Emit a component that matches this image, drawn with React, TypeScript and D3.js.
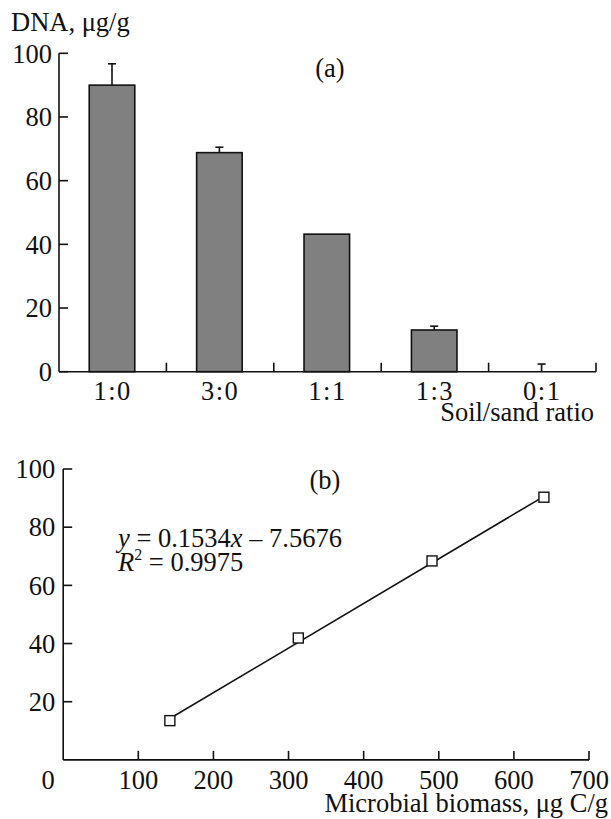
import React from "react";
import * as d3 from "d3";

const ratios = ["1:0", "3:0", "1:1", "1:3", "0:1"];
const dnaMeans = [90, 68.8, 43.2, 13.1, 0];
const dnaErrors = [6.7, 1.7, 0, 1.2, 2.4];
const yTicksA = [0, 20, 40, 60, 80, 100];

const biomass = [142, 313, 491, 640];
const dnaB = [13.5, 41.9, 68.4, 90.3];
const yTicksB = [20, 40, 60, 80, 100];
const xTicksB = [0, 100, 200, 300, 400, 500, 600, 700];
const fitSlope = 0.1534;
const fitIntercept = -7.5676;

const FONT = "'Liberation Serif', 'Times New Roman', serif";
const FS = 26.5;

export default function App() {
  // panel (a)
  const xA = d3
    .scaleBand<string>()
    .domain(ratios)
    .range([59, 596])
    .paddingInner(0.576)
    .paddingOuter(0.288);
  const xAOuter = d3.scaleBand<string>().domain(ratios).range([59, 596]).padding(0);
  const yA = d3.scaleLinear().domain([0, 100]).range([371.7, 53.3]);

  // panel (b)
  const xB = d3.scaleLinear().domain([0, 700]).range([63.2, 589]);
  const yB = d3.scaleLinear().domain([0, 100]).range([759.9, 469]);

  const sw = 1.6;
  const tickLen = 9;

  const fitX = d3.extent(biomass) as [number, number];
  const fitLine = d3
    .line<number>()
    .x((d) => xB(d))
    .y((d) => yB(fitSlope * d + fitIntercept));

  return (
    <svg
      width={611}
      height={819}
      style={{ position: "absolute", left: 0, top: 0, background: "#fff" }}
      fontFamily={FONT}
      fontSize={FS}
      fill="#111"
    >
      <rect x={0} y={0} width={611} height={819} fill="#fff" />
      {/* ---------- Panel (a) ---------- */}
      <text x={11} y={31}>DNA, μg/g</text>
      <text x={330} y={77} textAnchor="middle">(a)</text>

      {/* bars */}
      {ratios.map((r, i) => (
        <rect
          key={r}
          x={xA(r)! - 0.7}
          y={yA(dnaMeans[i])}
          width={xA.bandwidth()}
          height={yA(0) - yA(dnaMeans[i])}
          fill="#808080"
          stroke="#111"
          strokeWidth={sw}
        />
      ))}
      {/* error bars */}
      {ratios.map((r, i) =>
        dnaErrors[i] > 0 ? (
          <g key={"e" + r} stroke="#111" strokeWidth={sw}>
            <line
              x1={xA(r)! + xA.bandwidth() / 2 - 0.7}
              x2={xA(r)! + xA.bandwidth() / 2 - 0.7}
              y1={yA(dnaMeans[i])}
              y2={yA(dnaMeans[i] + dnaErrors[i])}
            />
            <line
              x1={xA(r)! + xA.bandwidth() / 2 - 4.7}
              x2={xA(r)! + xA.bandwidth() / 2 + 3.3}
              y1={yA(dnaMeans[i] + dnaErrors[i])}
              y2={yA(dnaMeans[i] + dnaErrors[i])}
            />
          </g>
        ) : null
      )}

      {/* y axis a */}
      <line x1={59} x2={59} y1={yA(100)} y2={yA(0)} stroke="#111" strokeWidth={sw} />
      {yTicksA.map((t) => (
        <g key={"ya" + t}>
          <line x1={59} x2={59 + tickLen} y1={yA(t)} y2={yA(t)} stroke="#111" strokeWidth={sw} />
          <text x={52} y={yA(t)} dy="0.35em" textAnchor="end">{t}</text>
        </g>
      ))}
      {/* x axis a */}
      <line x1={59} x2={596} y1={yA(0)} y2={yA(0)} stroke="#111" strokeWidth={sw} />
      {ratios.map((r) => (
        <line
          key={"xt" + r}
          x1={xAOuter(r)! + xAOuter.bandwidth()}
          x2={xAOuter(r)! + xAOuter.bandwidth()}
          y1={yA(0)}
          y2={yA(0) - tickLen}
          stroke="#111"
          strokeWidth={sw}
        />
      ))}
      {ratios.map((r) => (
        <text
          key={"xl" + r}
          x={xAOuter(r)! + xAOuter.bandwidth() / 2}
          y={400}
          textAnchor="middle"
          letterSpacing={1.5}
        >
          {r}
        </text>
      ))}
      <text x={594} y={421} textAnchor="end">Soil/sand ratio</text>

      {/* ---------- Panel (b) ---------- */}
      <text x={325} y={489} textAnchor="middle">(b)</text>
      <text x={118} y={547}>
        <tspan fontStyle="italic">y</tspan>
        <tspan> = 0.1534</tspan>
        <tspan fontStyle="italic">x</tspan>
        <tspan> – 7.5676</tspan>
      </text>
      <text x={118} y={571}>
        <tspan fontStyle="italic">R</tspan>
        <tspan fontSize={16} dy={-11}>2</tspan>
        <tspan dy={11}> = 0.9975</tspan>
      </text>

      {/* y axis b */}
      <line x1={xB(0)} x2={xB(0)} y1={yB(100)} y2={yB(0)} stroke="#111" strokeWidth={sw} />
      {yTicksB.map((t) => (
        <g key={"yb" + t}>
          <line x1={xB(0)} x2={xB(0) + tickLen} y1={yB(t)} y2={yB(t)} stroke="#111" strokeWidth={sw} />
          <text x={xB(0) - 8} y={yB(t)} dy="0.35em" textAnchor="end">{t}</text>
        </g>
      ))}
      {/* x axis b */}
      <line x1={xB(0)} x2={xB(700)} y1={yB(0)} y2={yB(0)} stroke="#111" strokeWidth={sw} />
      {xTicksB.map((t) => (
        <g key={"xb" + t}>
          {t > 0 && (
            <line x1={xB(t)} x2={xB(t)} y1={yB(0)} y2={yB(0) - tickLen} stroke="#111" strokeWidth={sw} />
          )}
          <text x={t === 0 ? xB(t) - 15 : xB(t)} y={789} textAnchor="middle">{t}</text>
        </g>
      ))}
      <text x={608} y={812} textAnchor="end">Microbial biomass, μg C/g</text>

      {/* fit line */}
      <path d={fitLine(fitX) || ""} fill="none" stroke="#111" strokeWidth={sw} />
      {/* markers */}
      {biomass.map((b, i) => (
        <rect
          key={"m" + i}
          x={xB(b) - 5}
          y={yB(dnaB[i]) - 5}
          width={10}
          height={10}
          fill="#fff"
          stroke="#111"
          strokeWidth={1.4}
        />
      ))}
    </svg>
  );
}
